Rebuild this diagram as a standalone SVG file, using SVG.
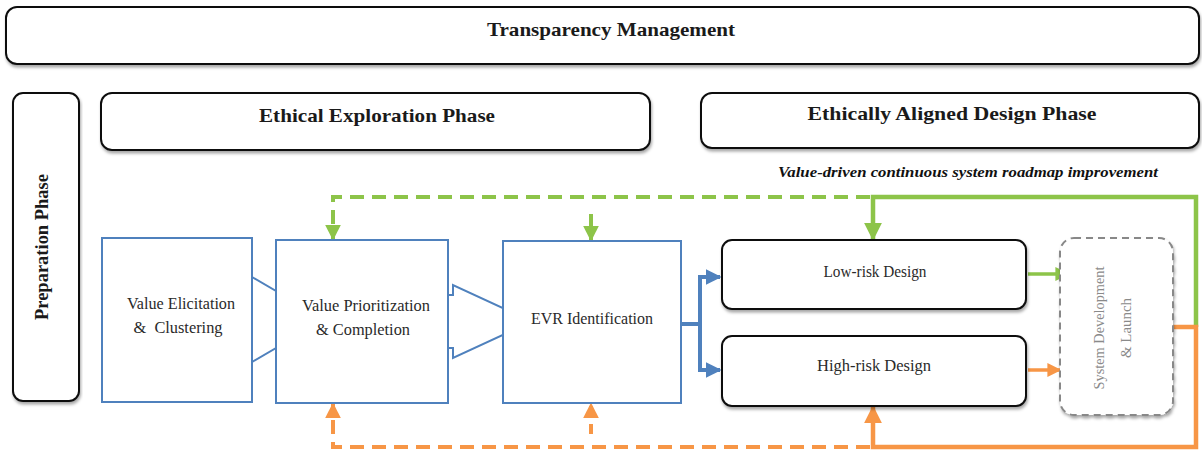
<svg xmlns="http://www.w3.org/2000/svg" width="1202" height="453" viewBox="0 0 1202 453">
  <style>
    .phase { fill: #ffffff; stroke: #111111; stroke-width: 2; filter: url(#shadow); }
    .step { fill: #ffffff; stroke: #4f81bd; stroke-width: 2; }
    .head { font-family: "Liberation Serif", "DejaVu Serif", serif; font-weight: bold; fill: #1a1a1a; text-anchor: middle; }
    .lbl { font-family: "Liberation Serif", "DejaVu Serif", serif; font-size: 16px; fill: #2a2a2a; text-anchor: middle; }
    .sys { font-family: "Liberation Serif", "DejaVu Serif", serif; font-size: 15px; fill: #8a8a8a; text-anchor: middle; }
    .green { fill: none; stroke: #8dc449; stroke-width: 4.5; }
    .orange { fill: none; stroke: #f79646; stroke-width: 4.5; }
    .dash { stroke-dasharray: 14 8; stroke-width: 4; }
    .blue { fill: none; stroke: #4f81bd; stroke-width: 4; }
  </style>
  <defs>
    <filter id="shadow" x="-5%" y="-10%" width="110%" height="130%">
      <feDropShadow dx="1" dy="2.5" stdDeviation="1.5" flood-color="#000000" flood-opacity="0.35"/>
    </filter>
    <marker id="ahGreen" viewBox="0 0 10 10" refX="9" refY="5" markerWidth="4" markerHeight="4" orient="auto" markerUnits="strokeWidth">
      <path d="M0,0 L10,5 L0,10 z" fill="#8dc449"/>
    </marker>
    <marker id="ahOrange" viewBox="0 0 10 10" refX="9" refY="5" markerWidth="4" markerHeight="4" orient="auto" markerUnits="strokeWidth">
      <path d="M0,0 L10,5 L0,10 z" fill="#f79646"/>
    </marker>
    <marker id="ahBlue" viewBox="0 0 10 10" refX="9" refY="5" markerWidth="4" markerHeight="4" orient="auto" markerUnits="strokeWidth">
      <path d="M0,0 L10,5 L0,10 z" fill="#4f81bd"/>
    </marker>
  </defs>

  <rect width="1202" height="453" fill="#ffffff"/>

  <!-- phase banners -->
  <g id="transparency">
    <rect class="phase" x="6" y="7" width="1193" height="57" rx="11"/>
    <text class="head" x="611" y="36" font-size="19" textLength="248" lengthAdjust="spacingAndGlyphs">Transparency Management</text>
  </g>
  <g id="preparation">
    <rect class="phase" x="13" y="93" width="66" height="308" rx="10"/>
    <text class="head" transform="translate(48,247) rotate(-90)" font-size="19" textLength="146" lengthAdjust="spacingAndGlyphs">Preparation Phase</text>
  </g>
  <g id="exploration">
    <rect class="phase" x="101" y="93" width="549" height="57" rx="11"/>
    <text class="head" x="377" y="122" font-size="19" textLength="236" lengthAdjust="spacingAndGlyphs">Ethical Exploration Phase</text>
  </g>
  <g id="design-phase">
    <rect class="phase" x="701" y="93" width="498" height="55" rx="11"/>
    <text class="head" x="952" y="120" font-size="19" textLength="289" lengthAdjust="spacingAndGlyphs">Ethically Aligned Design Phase</text>
  </g>
  <text x="968" y="177" font-family="'Liberation Serif', 'DejaVu Serif', serif" font-size="14" font-weight="bold" font-style="italic" fill="#111111" text-anchor="middle" textLength="380" lengthAdjust="spacingAndGlyphs">Value-driven continuous system roadmap improvement</text>

  <!-- connectors -->
  <g id="connectors">
    <!-- block arrows between exploration steps -->
    <polygon class="step" points="252,277 300,305 300,334 252,362"/>
    <polygon class="step" points="448,295 453,295 453,285 532,321.5 453,358 453,348 448,348"/>

    <!-- EVR split into the two design tracks -->
    <path class="blue" d="M681,324 H700"/>
    <path class="blue" d="M700,277 V370"/>
    <path class="blue" d="M698,277 H720" marker-end="url(#ahBlue)"/>
    <path class="blue" d="M698,370 H720" marker-end="url(#ahBlue)"/>

    <!-- design tracks into system development -->
    <path class="green" style="stroke-width:3.5" d="M1028,274 H1068" marker-end="url(#ahGreen)"/>
    <path class="orange" style="stroke-width:3.5" d="M1028,370 H1060" marker-end="url(#ahOrange)"/>

    <!-- improvement loops -->
    <path class="green" d="M1196,327 V197 H873 V239" marker-end="url(#ahGreen)"/>
    <path class="orange" d="M1173,327 H1196 V447 H873 V407" marker-end="url(#ahOrange)"/>

    <path class="green dash" d="M870,197 H333 V239" marker-end="url(#ahGreen)"/>
    <path class="green dash" d="M591,214 V240" style="stroke-dasharray:none" marker-end="url(#ahGreen)"/>
    <path class="orange dash" d="M870,447 H333 V404" marker-end="url(#ahOrange)"/>
    <path class="orange dash" d="M591,434 V404" style="stroke-dasharray:10 8" marker-end="url(#ahOrange)"/>
  </g>

  <!-- exploration steps -->
  <g id="elicitation">
    <rect class="step" x="102" y="238" width="150" height="164"/>
    <text class="lbl" x="181" y="309" textLength="108" lengthAdjust="spacingAndGlyphs">Value Elicitation</text>
    <text class="lbl" x="178" y="333" textLength="89" lengthAdjust="spacingAndGlyphs" xml:space="preserve">&amp;  Clustering</text>
  </g>
  <g id="prioritization">
    <rect class="step" x="276" y="240" width="172" height="163"/>
    <text class="lbl" x="366" y="311" textLength="128" lengthAdjust="spacingAndGlyphs">Value Prioritization</text>
    <text class="lbl" x="363" y="335" textLength="94" lengthAdjust="spacingAndGlyphs">&amp; Completion</text>
  </g>
  <g id="evr">
    <rect class="step" x="503" y="241" width="178" height="162"/>
    <text class="lbl" x="592" y="324" textLength="122" lengthAdjust="spacingAndGlyphs">EVR Identification</text>
  </g>

  <!-- design tracks -->
  <g id="low-risk">
    <rect class="phase" x="722" y="240" width="304" height="69" rx="10"/>
    <text class="lbl" x="875" y="277" textLength="103" lengthAdjust="spacingAndGlyphs">Low-risk Design</text>
  </g>
  <g id="high-risk">
    <rect class="phase" x="722" y="336" width="304" height="70" rx="10"/>
    <text class="lbl" x="874" y="371" textLength="114" lengthAdjust="spacingAndGlyphs">High-risk Design</text>
  </g>

  <!-- system development -->
  <g id="system-dev">
    <rect x="1060" y="238" width="113" height="177" rx="14" fill="#ffffff" stroke="#888888" stroke-width="2" stroke-dasharray="7 5" filter="url(#shadow)"/>
    <text class="sys" transform="translate(1104,328) rotate(-90)" textLength="123" lengthAdjust="spacingAndGlyphs">System Development</text>
    <text class="sys" transform="translate(1131,328) rotate(-90)" textLength="60" lengthAdjust="spacingAndGlyphs">&amp; Launch</text>
  </g>
</svg>
